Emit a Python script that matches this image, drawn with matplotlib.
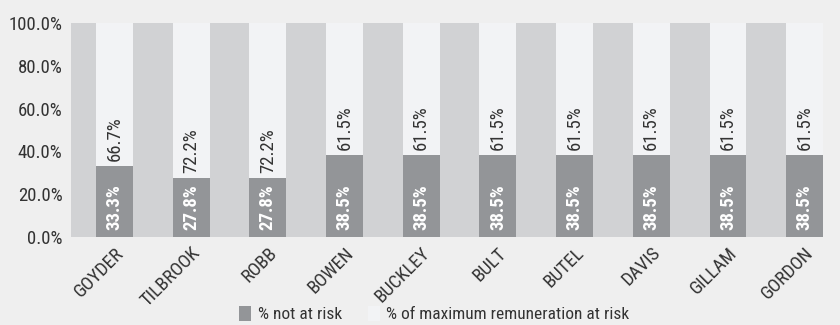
import matplotlib
matplotlib.use("Agg")
import matplotlib.pyplot as plt
from matplotlib import font_manager as fm

names = ["GOYDER", "TILBROOK", "ROBB", "BOWEN", "BUCKLEY", "BULT", "BUTEL", "DAVIS", "GILLAM", "GORDON"]
not_at_risk = [33.3, 27.8, 27.8, 38.5, 38.5, 38.5, 38.5, 38.5, 38.5, 38.5]
at_risk = [66.7, 72.2, 72.2, 61.5, 61.5, 61.5, 61.5, 61.5, 61.5, 61.5]
series_labels = ["% not at risk", "% of maximum remuneration at risk"]
yticks = [0, 20, 40, 60, 80, 100]

avail = {f.name for f in fm.fontManager.ttflist}
fam = "DejaVu Sans"
for cand in ["Roboto Condensed", "PT Sans Narrow", "Archivo Narrow", "Pathway Gothic One",
             "Liberation Sans Narrow", "Open Sans Condensed"]:
    if cand in avail:
        fam = cand
        break
plt.rcParams['font.family'] = [fam, 'DejaVu Sans']

fig = plt.figure(figsize=(8.4, 3.25), dpi=100, facecolor="#efefef")
ax = fig.add_axes([71/840, 1-237/325, (823-71)/840, (237-23)/325])
ax.set_facecolor("#d1d2d4")

x = list(range(len(names)))
w = 0.48
dark = "#939598"
light = "#f2f3f5"
b1 = ax.bar(x, not_at_risk, width=w, color=dark, label=series_labels[0])
b2 = ax.bar(x, at_risk, width=w, bottom=not_at_risk, color=light, label=series_labels[1])

for xi, a, b in zip(x, not_at_risk, at_risk):
    ax.text(xi, 3.5, f"{a:.1f}%", rotation=90, ha="center", va="bottom",
            color="white", fontsize=13.5, fontweight="bold")
    ax.text(xi, a + 2.0, f"{b:.1f}%", rotation=90, ha="center", va="bottom",
            color="#333333", fontsize=13.5)

ax.set_xlim(-0.567, 9.24)
ax.set_ylim(0, 100)
ax.set_yticks(yticks)
ax.set_yticklabels([f"{v:.1f}%" for v in yticks], fontsize=13.5, color="#333333")
ax.set_xticks(x)
ax.set_xticklabels(names, rotation=45, ha="right", rotation_mode="anchor",
                   fontsize=13.5, color="#333333")
ax.tick_params(axis="y", length=0, pad=6)
ax.tick_params(axis="x", length=0, pad=5)
for s in ax.spines.values():
    s.set_visible(False)

leg = fig.legend(handles=[b1, b2], labels=series_labels, loc="lower center",
                 bbox_to_anchor=(0.517, -0.04), ncol=2, frameon=False,
                 fontsize=12.5, handlelength=0.7, handleheight=0.9,
                 handletextpad=0.35, columnspacing=1.5)
for t in leg.get_texts():
    t.set_color("#333333")

fig.savefig("out.png", dpi=100, facecolor=fig.get_facecolor())
